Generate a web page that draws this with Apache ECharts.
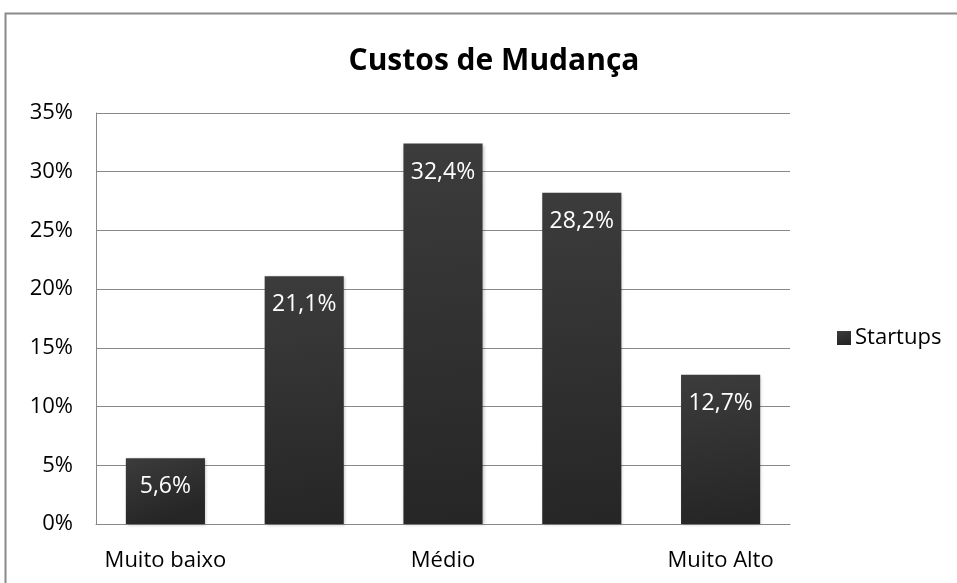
<!DOCTYPE html>
<html>
<head>
<meta charset="utf-8">
<script src="https://cdn.jsdelivr.net/npm/echarts@6/dist/echarts.min.js"></script>
<style>
  html, body { margin: 0; padding: 0; background: #fff; }
  #chart { width: 957px; height: 583px; }
</style>
</head>
<body>
<div id="chart"></div>
<script>
// categorias e valores (%)
const categories = ['Muito baixo', 'Baixo', 'Médio', 'Alto', 'Muito Alto']
const startups = [5.6, 21.1, 32.4, 28.2, 12.7]
const yTicks = [0, 5, 10, 15, 20, 25, 30, 35]

const font = '"Open Sans", sans-serif'

let chart = echarts.init(document.getElementById('chart'))

let option = {
    backgroundColor: '#fff',
    animation: false,
    title: {
        text: 'Custos de Mudança',
        left: 489,
        textAlign: 'center',
        top: 41,
        textStyle: { fontFamily: font, fontSize: 30, fontWeight: 'bold', color: '#000' }
    },
    graphic: [{
        type: 'rect',
        shape: { x: 5.5, y: 13.5, width: 960, height: 600 },
        style: { fill: 'none', stroke: '#8a8a8a', lineWidth: 2 }
    }],
    legend: {
        data: ['Startups'],
        left: 832,
        top: 322,
        icon: 'rect',
        itemWidth: 14,
        itemHeight: 14,
        itemGap: 6,
        textStyle: { fontFamily: font, fontSize: 22, color: '#000', padding: [0, 0, 0, -1] }
    },
    grid: {
        left: 96,
        right: 167,
        top: 113,
        bottom: 59
    },
    xAxis: {
        type: 'category',
        data: categories,
        axisLine: { lineStyle: { color: '#888', width: 1 } },
        axisTick: { show: false },
        axisLabel: {
            interval: 1,
            margin: 26,
            fontFamily: font,
            fontSize: 22,
            color: '#000'
        }
    },
    yAxis: {
        type: 'value',
        min: yTicks[0],
        max: yTicks[yTicks.length - 1],
        interval: 5,
        axisLine: { show: true, lineStyle: { color: '#888' } },
        axisTick: { show: false },
        splitLine: { lineStyle: { color: '#888', width: 1 } },
        axisLabel: {
            margin: 23,
            fontFamily: font,
            fontSize: 22,
            color: '#000',
            formatter: v => v + '%'
        }
    },
    series: [{
        name: 'Startups',
        type: 'bar',
        data: startups,
        barWidth: '57%',
        itemStyle: {
            color: new echarts.graphic.LinearGradient(0, 0, 0.3, 1, [
                { offset: 0, color: '#3c3c3c' },
                { offset: 1, color: '#262626' }
            ]),
            shadowColor: 'rgba(0,0,0,0.25)',
            shadowBlur: 3,
            shadowOffsetX: 1,
            shadowOffsetY: 1
        },
        label: {
            show: true,
            position: 'insideTop',
            distance: 17,
            fontFamily: font,
            fontSize: 23,
            color: '#fff',
            formatter: p => String(p.value).replace('.', ',') + '%'
        }
    }]
}

chart.setOption(option)
</script>
</body>
</html>
